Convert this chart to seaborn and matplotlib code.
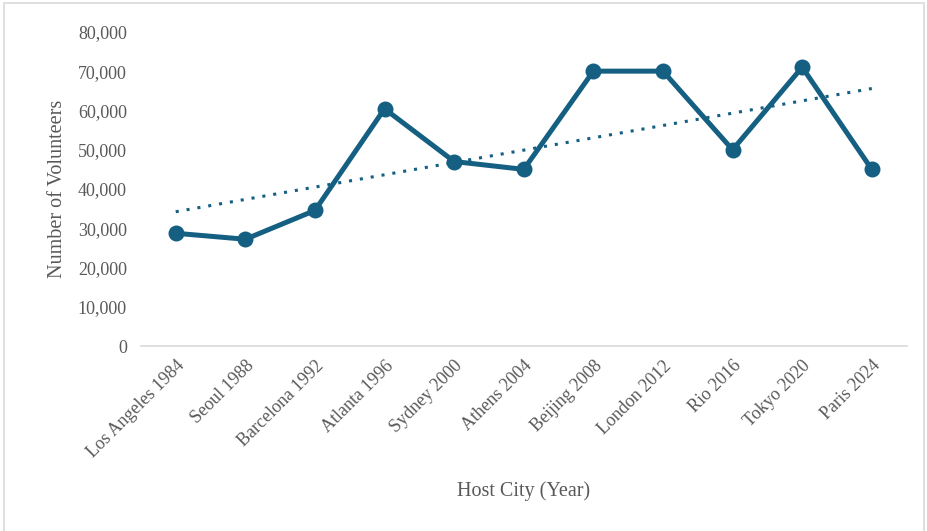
import numpy as np
import pandas as pd
import matplotlib
matplotlib.use("Agg")
import matplotlib.pyplot as plt
import seaborn as sns
from matplotlib.patches import Rectangle
from matplotlib.ticker import FuncFormatter

# данные
cities = ["Los Angeles 1984", "Seoul 1988", "Barcelona 1992", "Atlanta 1996",
          "Sydney 2000", "Athens 2004", "Beijing 2008", "London 2012",
          "Rio 2016", "Tokyo 2020", "Paris 2024"]
volunteers = [28742, 27221, 34548, 60422, 47000, 45000, 70000, 70000, 50000, 71000, 45000]

color = "#156082"

sns.set_theme(style="white")
plt.rcParams['font.family'] = ['Liberation Serif', 'DejaVu Serif']

df = pd.DataFrame({"city": cities, "volunteers": volunteers, "idx": np.arange(len(cities))})

fig = plt.figure(figsize=(9.27, 5.31), dpi=100)
ax = fig.add_axes([0.152, 0.348, 0.826, 0.592])

sns.lineplot(data=df, x="idx", y="volunteers", ax=ax, color=color, lw=3.6,
             marker="o", markersize=11.5, markeredgewidth=0, sort=False)
sns.regplot(data=df, x="idx", y="volunteers", ax=ax, scatter=False, ci=None,
            color=color, line_kws=dict(lw=2.2, linestyle=(0, (1, 2.6))))

ax.set_xlim(-0.5, len(cities) - 0.5)
ax.set_ylim(0, 80000)
ax.set_yticks(range(0, 80001, 10000))
ax.yaxis.set_major_formatter(FuncFormatter(lambda v, p: f"{int(v):,}"))
ax.set_xticks(range(len(cities)))
ax.set_xticklabels(cities, rotation=45, ha="right", rotation_mode="anchor")

ax.tick_params(axis="both", colors="#595959", labelsize=13, length=0)
ax.tick_params(axis="x", pad=8)
ax.tick_params(axis="y", pad=10)

for s in ["top", "right", "left"]:
    ax.spines[s].set_visible(False)
ax.spines["bottom"].set_color("#d9d9d9")
ax.spines["bottom"].set_linewidth(1.2)

ax.set_xlabel("Host City (Year)", fontsize=14.5, color="#595959", labelpad=14)
ax.set_ylabel("Number of Volunteers", fontsize=14.5, color="#595959", labelpad=8)

# рамка вокруг диаграммы
fig.patches.append(Rectangle((0.004, -0.01), 0.993, 1.005, transform=fig.transFigure,
                             fill=False, edgecolor="#d9d9d9", lw=1.2))

fig.savefig("out.png", dpi=100)
